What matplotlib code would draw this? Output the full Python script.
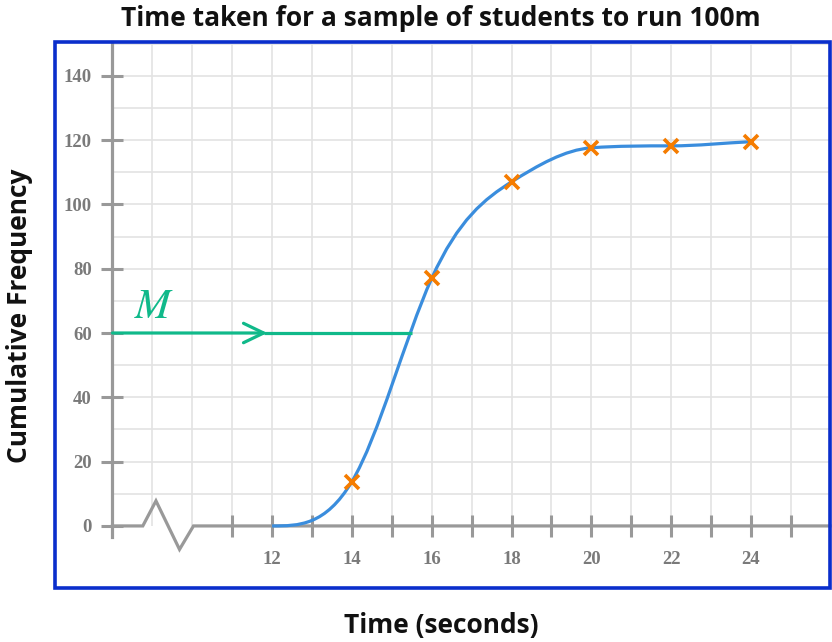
import numpy as np
import matplotlib
matplotlib.use('Agg')
import matplotlib.pyplot as plt
from matplotlib.path import Path
from matplotlib.patches import PathPatch, Rectangle

# data
times = [14, 16, 18, 20, 22, 24]
cum_freq = [13.8, 77, 107, 117.6, 118.2, 119.5]
curve_start = (12, 0)            # curve leaves the axis here
median_cf = 60
median_time = 15.5
x_labels = [12, 14, 16, 18, 20, 22, 24]
x_minor = [11, 13, 15, 17, 19, 21, 23, 25]
y_labels = [0, 20, 40, 60, 80, 100, 120, 140]

gray = '#999999'
grid_c = '#e3e3e3'
blue = '#3a8ddd'
orange = '#f57c00'
green = '#10b98a'
border = '#0a2ecc'
font = 'Open Sans'


def smooth_path(xs, ys, end_slope=0.6):
    # clamped cubic spline tangents (kept monotone), drawn as bezier segments
    xs = np.asarray(xs, float)
    ys = np.asarray(ys, float)
    n = len(xs)
    h = np.diff(xs)
    A = np.zeros((n, n))
    b = np.zeros(n)
    A[0, 0] = 1
    A[-1, -1] = 1
    b[-1] = end_slope
    for i in range(1, n - 1):
        A[i, i - 1] = h[i]
        A[i, i] = 2 * (h[i - 1] + h[i])
        A[i, i + 1] = h[i - 1]
        b[i] = 3 * (h[i] * (ys[i] - ys[i - 1]) / h[i - 1] + h[i - 1] * (ys[i + 1] - ys[i]) / h[i])
    m = np.linalg.solve(A, b)
    delta = np.diff(ys) / h
    for i in range(n - 1):
        a, bb = m[i] / delta[i], m[i + 1] / delta[i]
        r = a * a + bb * bb
        if r > 9:
            t = 3 / np.sqrt(r)
            m[i] *= t
            m[i + 1] *= t
    verts = [(xs[0], ys[0])]
    codes = [Path.MOVETO]
    for i in range(n - 1):
        d = h[i] / 3
        verts += [(xs[i] + d, ys[i] + d * m[i]), (xs[i + 1] - d, ys[i + 1] - d * m[i + 1]), (xs[i + 1], ys[i + 1])]
        codes += [Path.CURVE4] * 3
    return Path(verts, codes)


fig = plt.figure(figsize=(8.32, 6.42), dpi=100)
ax = fig.add_axes([55 / 832, 54 / 642, 775 / 832, 546 / 642])
ax.set_xlim(6.56, 25.98)
ax.set_ylim(-19.3, 150.5)

# grid only in the quadrant
ax.vlines(range(9, 26), 0, 150.5, color=grid_c, lw=1.2, zorder=1)
ax.hlines(range(10, 151, 10), 8, 25.98, color=grid_c, lw=1.2, zorder=1)

# axes
for s in ['top', 'right', 'bottom']:
    ax.spines[s].set_visible(False)
ax.spines['left'].set_position(('data', 8))
ax.spines['left'].set_bounds(-3.5, 150.5)
ax.spines['left'].set_color(gray)
ax.spines['left'].set_linewidth(2.3)
ax.spines['bottom'].set_position(('data', 0))

# x axis with a break
ax.plot([8, 8.76, 9.09, 9.68, 10.03, 25.98], [0, 0, 7.8, -7.3, 0, 0],
        color=gray, lw=2.3, solid_joinstyle='miter', zorder=3, clip_on=False)

ax.set_xticks(x_labels)
ax.set_xticks(x_minor, minor=True)
ax.set_yticks(y_labels)
ax.tick_params(axis='both', which='both', direction='inout', length=16, width=2.2, color=gray,
               labelcolor='#7a7a7a')
ax.tick_params(axis='y', pad=7)
ax.tick_params(axis='x', pad=10)
for lab in ax.get_xticklabels() + ax.get_yticklabels():
    lab.set_fontfamily('Liberation Serif')
    lab.set_fontweight('bold')
    lab.set_fontsize(13.5)

# curve and points
ax.add_patch(PathPatch(smooth_path([curve_start[0]] + times, [curve_start[1]] + cum_freq),
                       facecolor='none', edgecolor=blue, lw=2.3, zorder=4))
ax.plot(times, cum_freq, ls='none', marker='x', ms=10, mew=2.6, color=orange, zorder=5)

# median line
ax.annotate('', xy=(11.88, median_cf), xytext=(8, median_cf),
            arrowprops=dict(arrowstyle='->,head_length=1.45,head_width=0.7', color=green,
                            lw=2.3, shrinkA=0, shrinkB=0, mutation_scale=10), zorder=4)
ax.plot([11.8, median_time], [median_cf, median_cf], color=green, lw=2.3, zorder=4,
        solid_capstyle='butt')
ax.text(9.05, 68.5, '$M$', color=green, fontsize=31, math_fontfamily='stix', ha='center', va='center')

# blue frame
ax.add_patch(Rectangle((0, 0), 1, 1, transform=ax.transAxes, fill=False, edgecolor=border,
                       lw=2.6, clip_on=False, zorder=6))

fig.text(441 / 832, 1 - 19 / 642, 'Time taken for a sample of students to run 100m',
         ha='center', va='center', fontsize=19, fontweight='bold', family=font, color='#111111')
fig.text(441 / 832, 1 - 625 / 642, 'Time (seconds)', ha='center', va='center',
         fontsize=19, fontweight='bold', family=font, color='#111111')
fig.text(20 / 832, 1 - 316 / 642, 'Cumulative Frequency', ha='center', va='center', rotation=90,
         fontsize=19, fontweight='bold', family=font, color='#111111')

fig.savefig('out.png', dpi=100)
